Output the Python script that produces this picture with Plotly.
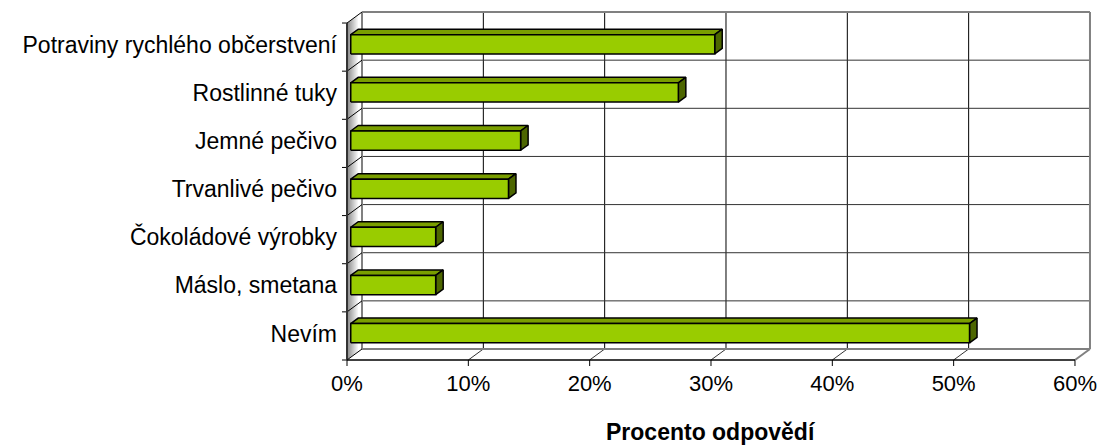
import plotly.graph_objects as go

# Survey answers (share of respondents, %), listed bottom to top
categories = [
    "Nevím",
    "Máslo, smetana",
    "Čokoládové výrobky",
    "Trvanlivé pečivo",
    "Jemné pečivo",
    "Rostlinné tuky",
    "Potraviny rychlého občerstvení",
]
values = [51, 7, 7, 13, 14, 27, 30]
x_ticks = [0, 10, 20, 30, 40, 50, 60]
x_tick_labels = [f"{t}%" for t in x_ticks]
axis_title = "Procento odpovědí"

# Geometry of the oblique 3D box (screen px per data unit, depth offset)
W, H = 1099, 446
M_L, M_R, M_T, M_B = 338, 2, 5, 78
PX_X = 12.133          # px per percent
PX_Y = 48.14           # px per category band
FRONT_X0 = 347         # px position of 0 % on the front plane
FRONT_Y0 = 360         # px position of the front floor edge
DX = 15 / PX_X         # depth offset along x (data units)
DY = 11 / PX_Y         # depth offset along y (data units)
BAR_Z0, BAR_Z1 = 0.25, 0.75   # bar depth span (fraction of box depth)
BAR_HALF = 0.2                 # half bar thickness (category units)
LABEL_LIFT = 0.05              # category labels sit slightly above band centres

XMAX = x_ticks[-1]
YLO, YHI = -0.5, len(categories) - 0.5

x_range = [(M_L - FRONT_X0) / PX_X, (W - M_R - FRONT_X0) / PX_X]
y_range = [(FRONT_Y0 - (H - M_B)) / PX_Y - 0.5, (FRONT_Y0 - M_T) / PX_Y - 0.5]

GREEN_FRONT = "#99CC00"
GREEN_TOP = "#7A9E00"
GREEN_SIDE = "#4D6600"
WALL_EDGE = "#808080"

fig = go.Figure()


def segs(pairs):
    xs, ys = [], []
    for (x0, y0), (x1, y1) in pairs:
        xs += [x0, x1, None]
        ys += [y0, y1, None]
    return xs, ys


def polys(shapes):
    xs, ys = [], []
    for pts in shapes:
        for px, py in pts + [pts[0]]:
            xs.append(px)
            ys.append(py)
        xs.append(None)
        ys.append(None)
    return xs, ys


def add_lines(pairs, color, width):
    xs, ys = segs(pairs)
    fig.add_trace(go.Scatter(x=xs, y=ys, mode="lines",
                             line=dict(color=color, width=width),
                             hoverinfo="skip", showlegend=False))


def add_polys(shapes, fill, line_color, line_width):
    xs, ys = polys(shapes)
    fig.add_trace(go.Scatter(x=xs, y=ys, mode="lines", fill="toself",
                             fillcolor=fill,
                             line=dict(color=line_color, width=line_width),
                             hoverinfo="skip", showlegend=False))


# Back wall grid
add_lines([((DX + t, YLO + DY), (DX + t, YHI + DY)) for t in x_ticks[1:-1]], "#000000", 1)
add_lines([((DX, b - 0.5 + DY), (DX + XMAX, b - 0.5 + DY)) for b in range(1, len(categories))],
          "#333333", 1)

# Floor: diagonals at each tick, short ticks below the front edge
add_lines([((t, YLO), (t + DX, YLO + DY)) for t in x_ticks[1:-1]], "#333333", 1)
add_lines([((t, YLO), (t, YLO - 6 / PX_Y)) for t in x_ticks], "#000000", 1)

# Left side wall with a grey-to-white shading
N_STRIPS = 15
for k in range(N_STRIPS):
    t0, t1 = k / N_STRIPS, (k + 1) / N_STRIPS
    g = int(140 + (255 - 140) * min(1.0, (k / (N_STRIPS - 4))))
    add_polys([[(t0 * DX, YLO + t0 * DY), (t1 * DX, YLO + t1 * DY),
                (t1 * DX, YHI + t1 * DY), (t0 * DX, YHI + t0 * DY)]],
              f"rgb({g},{g},{g})", f"rgba({g},{g},{g},0)", 0)

# Back wall / floor outline
add_lines([((DX, YLO + DY), (DX, YHI + DY)),
           ((DX, YHI + DY), (DX + XMAX, YHI + DY)),
           ((DX + XMAX, YHI + DY), (DX + XMAX, YLO + DY)),
           ((DX, YLO + DY), (DX + XMAX, YLO + DY)),
           ((XMAX, YLO), (XMAX + DX, YLO + DY))], WALL_EDGE, 2)

# Side-wall diagonals and left ticks at category boundaries
bounds = [b - 0.5 for b in range(len(categories) + 1)]
add_lines([((0, b), (DX, b + DY)) for b in bounds], "#000000", 1)
add_lines([((-5 / PX_X, b), (0, b)) for b in bounds], "#000000", 1)

# Front edges of the box
add_lines([((0, YLO), (0, YHI))], "#333333", 2)
add_lines([((0, YLO), (XMAX, YLO))], "#000000", 1.5)

# Bars: top face, right side, front face
tops, sides, fronts = [], [], []
for i, v in enumerate(values):
    fx, fy = BAR_Z0 * DX, BAR_Z0 * DY
    bx, by = BAR_Z1 * DX, BAR_Z1 * DY
    lo, hi = i - BAR_HALF, i + BAR_HALF
    tops.append([(fx, hi + fy), (v + fx, hi + fy), (v + bx, hi + by), (bx, hi + by)])
    sides.append([(v + fx, lo + fy), (v + fx, hi + fy), (v + bx, hi + by), (v + bx, lo + by)])
    fronts.append([(fx, lo + fy), (v + fx, lo + fy), (v + fx, hi + fy), (fx, hi + fy)])

add_polys(tops, GREEN_TOP, "#000000", 1.5)
add_polys(sides, GREEN_SIDE, "#000000", 1.5)
add_polys(fronts, GREEN_FRONT, "#000000", 1.5)

FONT = "Liberation Sans, Arial, sans-serif"

fig.add_annotation(x=30, xref="x", y=(H - M_B - 432) / (H - M_T - M_B), yref="paper",
                   text=f"<b>{axis_title}</b>", showarrow=False,
                   xanchor="center", yanchor="middle",
                   font=dict(family=FONT, size=23, color="#000000"))

fig.update_layout(
    width=W, height=H, autosize=False,
    margin=dict(l=M_L, r=M_R, t=M_T, b=M_B, pad=0),
    paper_bgcolor="#FFFFFF", plot_bgcolor="#FFFFFF",
    showlegend=False,
    font=dict(family=FONT, size=22, color="#000000"),
    xaxis=dict(range=x_range, showgrid=False, zeroline=False, showline=False,
               tickmode="array", tickvals=x_ticks, ticktext=x_tick_labels,
               ticks="", fixedrange=True, tickfont=dict(size=22)),
    yaxis=dict(range=y_range, showgrid=False, zeroline=False, showline=False,
               tickmode="array",
               tickvals=[i + LABEL_LIFT for i in range(len(categories))],
               ticktext=categories, ticks="", fixedrange=True,
               tickfont=dict(size=23)),
)

fig.write_html("out.html")
